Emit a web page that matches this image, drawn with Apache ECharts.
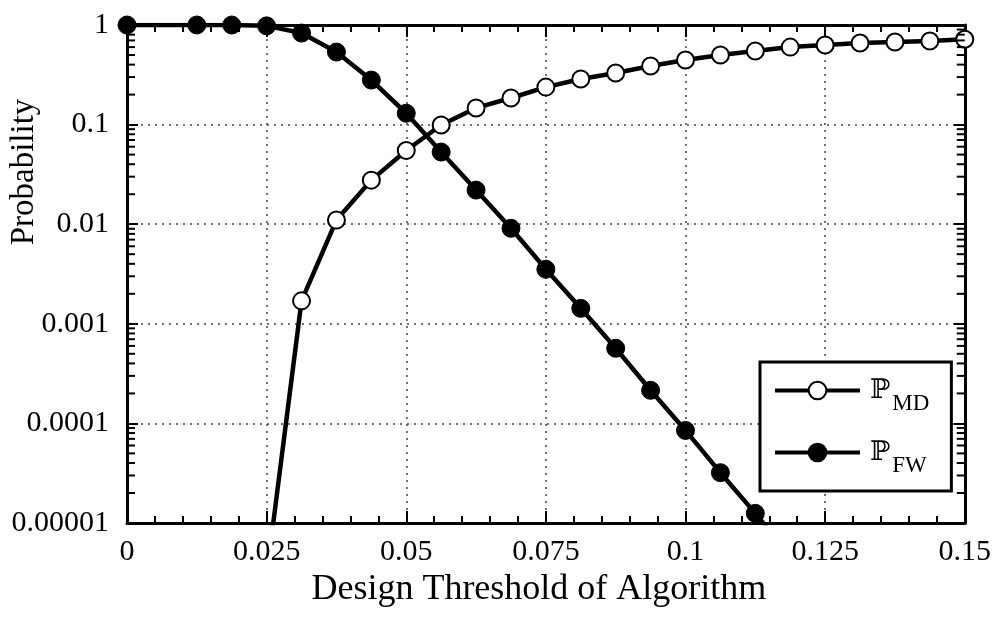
<!DOCTYPE html>
<html>
<head>
<meta charset="utf-8">
<script src="https://cdn.jsdelivr.net/npm/echarts@6/dist/echarts.min.js"></script>
<style>html,body{margin:0;padding:0;background:#fff;}#c{width:994px;height:617px;}</style>
</head>
<body>
<div id="c"></div>
<script>
// Data
const mdX = [0.025, 0.03125, 0.0375, 0.04375, 0.05, 0.05625, 0.0625, 0.06875, 0.075, 0.08125, 0.0875, 0.09375, 0.1, 0.10625, 0.1125, 0.11875, 0.125, 0.13125, 0.1375, 0.14375, 0.15];
const mdY = [0.000003, 0.0017, 0.011, 0.0277, 0.055, 0.099, 0.147, 0.185, 0.238, 0.287, 0.33, 0.387, 0.445, 0.50, 0.548, 0.60, 0.63, 0.66, 0.675, 0.69, 0.72];
const fwX = [0, 0.0125, 0.01875, 0.025, 0.03125, 0.0375, 0.04375, 0.05, 0.05625, 0.0625, 0.06875, 0.075, 0.08125, 0.0875, 0.09375, 0.1, 0.10625, 0.1125, 0.11875];
const fwY = [1, 1, 1, 0.98, 0.83, 0.535, 0.28, 0.13, 0.053, 0.022, 0.0091, 0.00353, 0.00143, 0.000568, 0.000215, 0.000085, 0.000032, 0.0000125, 0.0000047];
const xTickLabels = ['0', '0.025', '0.05', '0.075', '0.1', '0.125', '0.15'];
const yTickValues = [0.00001, 0.0001, 0.001, 0.01, 0.1, 1];
const yTickLabels = ['0.00001', '0.0001', '0.001', '0.01', '0.1', '1'];
const legendNames = ['PMD', 'PFW'];
const legendSubs = ['MD', 'FW'];
const xAxisTitle = 'Design Threshold of Algorithm';
const yAxisTitle = 'Probability';

// minor log ticks (2..9 x each decade)
const minorTicks = [];
for (let e = -5; e < 0; e++) { for (let m = 2; m <= 9; m++) { minorTicks.push(m * Math.pow(10, e)); } }

const FONT = 'Liberation Serif, Times New Roman, serif';
const chart = echarts.init(document.getElementById('c'), null, {renderer: 'canvas'});

function labelForY(v) {
  for (let i = 0; i < yTickValues.length; i++) {
    if (Math.abs(Math.log10(v) - Math.log10(yTickValues[i])) < 1e-6) return yTickLabels[i];
  }
  return '';
}
function labelForX(v) {
  const i = Math.round(v / 0.025);
  return xTickLabels[i] !== undefined ? xTickLabels[i] : '';
}

const xBase = {
  type: 'value', min: 0, max: 0.15, interval: 0.025,
  axisLine: {show: true, onZero: false, lineStyle: {color: '#000', width: 3}},
  axisTick: {show: true, inside: true, length: 12, lineStyle: {color: '#000', width: 2}},
  minorTick: {show: true, splitNumber: 5, length: 7, lineStyle: {color: '#000', width: 2}},
};
const yBase = {
  type: 'log', logBase: 10, min: 0.00001, max: 1,
  axisLine: {show: true, onZero: false, lineStyle: {color: '#000', width: 3}},
  axisTick: {show: true, inside: true, length: 11, lineStyle: {color: '#000', width: 2}},
};

chart.setOption({
  animation: false,
  backgroundColor: '#fff',
  grid: {left: 127, right: 25, top: 25, bottom: 94, containLabel: false},
  xAxis: [
    Object.assign({}, xBase, {
      position: 'bottom',
      name: xAxisTitle, nameLocation: 'middle', nameGap: 38,
      nameTextStyle: {fontFamily: FONT, fontSize: 36, color: '#000', padding: [0, 14, 0, 0]},
      axisLabel: {show: true, margin: 14, fontFamily: FONT, fontSize: 30, color: '#000', formatter: labelForX},
      splitLine: {show: true, lineStyle: {color: '#444', width: 1.5, type: [2, 5]}}
    }),
    Object.assign({}, xBase, {
      position: 'top', axisLabel: {show: false}, splitLine: {show: false}
    })
  ],
  yAxis: [
    Object.assign({}, yBase, {
      position: 'left',
      axisLabel: {show: true, margin: 18, fontFamily: FONT, fontSize: 30, color: '#000', formatter: labelForY},
      splitLine: {show: true, lineStyle: {color: '#444', width: 1.5, type: [2, 5]}}
    }),
    Object.assign({}, yBase, {
      position: 'right', axisLabel: {show: false}, splitLine: {show: false}
    })
  ],
  legend: {
    data: legendNames,
    orient: 'vertical',
    left: 760, top: 362,
    padding: [4, 22, 14, 13],
    itemGap: 13,
    itemWidth: 85, itemHeight: 22,
    borderColor: '#000', borderWidth: 3,
    backgroundColor: '#fff',
    lineStyle: {width: 4},
    itemStyle: {borderWidth: 2},
    formatter: function (name) {
      const i = legendNames.indexOf(name);
      return '{p|\u2119}{s|' + legendSubs[i] + '}';
    },
    textStyle: {
      color: '#000',
      rich: {
        p: {fontFamily: 'DejaVu Serif, serif', fontSize: 27, lineHeight: 30, padding: [0, 0, 0, 5]},
        s: {fontFamily: FONT, fontSize: 23, lineHeight: 22, padding: [26, 0, 0, 2]}
      }
    }
  },
  series: [
    {
      name: 'PMD', type: 'line',
      data: mdX.map((x, i) => [x, mdY[i]]),
      symbol: 'circle', symbolSize: 17, showAllSymbol: true,
      lineStyle: {color: '#000', width: 4.5},
      itemStyle: {color: '#fff', borderColor: '#000', borderWidth: 2},
      clip: true, z: 3
    },
    {
      name: 'PFW', type: 'line',
      data: fwX.map((x, i) => [x, fwY[i]]),
      symbol: 'circle', symbolSize: 18, showAllSymbol: true,
      lineStyle: {color: '#000', width: 4.5},
      itemStyle: {color: '#000', borderColor: '#000', borderWidth: 1},
      clip: true, z: 4
    }
  ]
});

// log-scale minor ticks on left and right frame, positioned through the chart's own scale
function toPx(x, y) {
  let px = chart.convertToPixel({xAxisIndex: 0}, x);
  let py = chart.convertToPixel({yAxisIndex: 0}, y);
  if (!isFinite(px) || !isFinite(py)) {
    const p = chart.convertToPixel({seriesIndex: 1}, [x, y]) || [NaN, NaN];
    px = p[0]; py = p[1];
  }
  return [px, py];
}
const elements = [
  {
    type: 'text', x: 24, y: 172, rotation: Math.PI / 2,
    style: {text: yAxisTitle, fontFamily: FONT, fontSize: 33, fill: '#000', align: 'center', verticalAlign: 'middle'}
  }
];
minorTicks.forEach(function (v) {
  const pL = toPx(0, v);
  const pR = toPx(0.15, v);
  if (!isFinite(pL[0]) || !isFinite(pL[1])) return;
  elements.push({type: 'rect', z: 100, silent: true, shape: {x: pL[0], y: pL[1] - 1, width: 8, height: 2}, style: {fill: '#000'}});
  elements.push({type: 'rect', z: 100, silent: true, shape: {x: pR[0] - 8, y: pR[1] - 1, width: 8, height: 2}, style: {fill: '#000'}});
});
chart.setOption({graphic: {elements: elements}});
</script>
</body>
</html>
